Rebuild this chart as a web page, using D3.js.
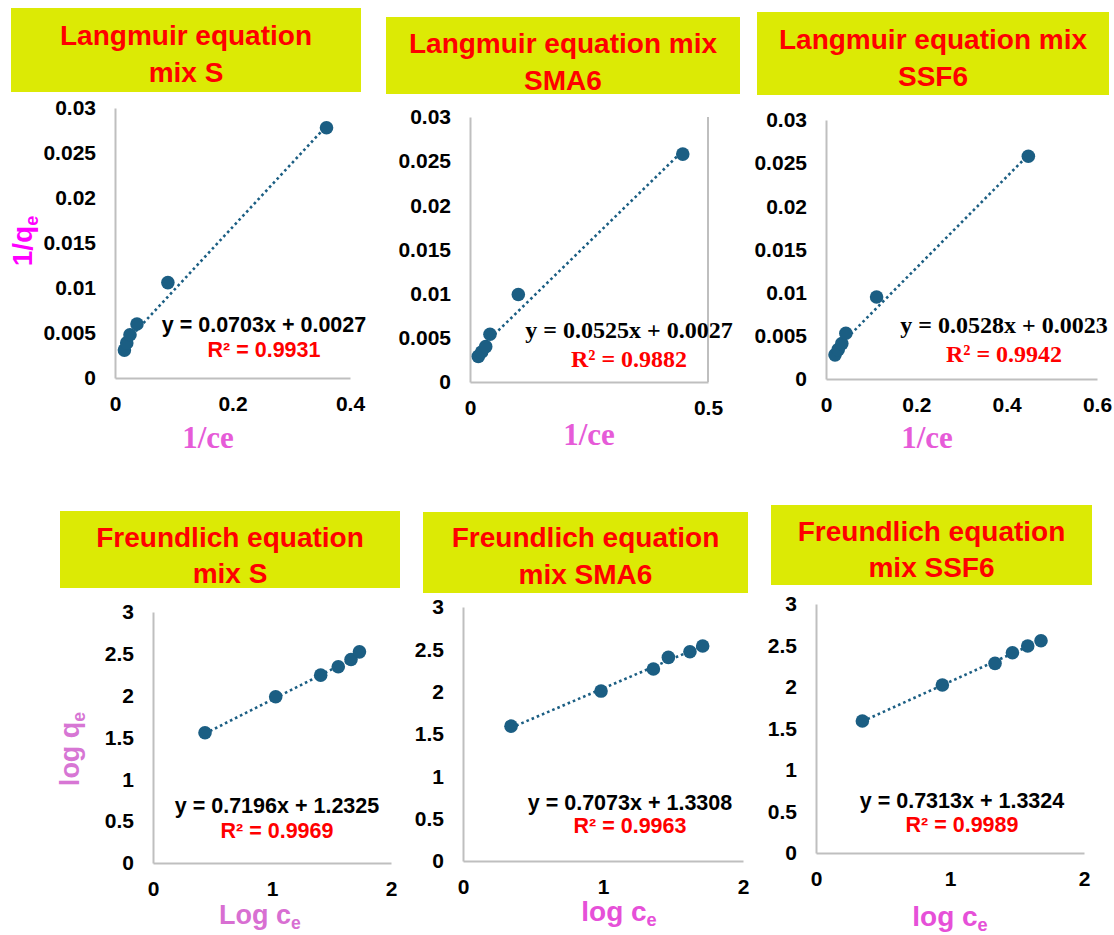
<!DOCTYPE html>
<html>
<head>
<meta charset="utf-8">
<script src="https://cdn.jsdelivr.net/npm/d3@7"></script>
<style>
  body { margin: 0; background: #fff; }
  text { font-weight: bold; }
</style>
</head>
<body>
<script>
// panel titles (two lines each)
const titles = [
    ["Langmuir equation", "mix S"],
    ["Langmuir equation mix", "SMA6"],
    ["Langmuir equation mix", "SSF6"],
    ["Freundlich equation", "mix S"],
    ["Freundlich equation", "mix SMA6"],
    ["Freundlich equation", "mix SSF6"],
];

const xDomains = [[0, 0.4], [0, 0.5], [0, 0.6], [0, 2], [0, 2], [0, 2]];
const yDomains = [[0, 0.03], [0, 0.03], [0, 0.03], [0, 3], [0, 3], [0, 3]];
const xTicks = [[0, 0.2, 0.4], [0, 0.5], [0, 0.2, 0.4, 0.6], [0, 1, 2], [0, 1, 2], [0, 1, 2]];
const yTicksLangmuir = [0, 0.005, 0.01, 0.015, 0.02, 0.025, 0.03];
const yTicksFreundlich = [0, 0.5, 1, 1.5, 2, 2.5, 3];

// measured points (1/ce vs 1/qe, log ce vs log qe)
const xValues = [
    [0.016, 0.020, 0.0255, 0.0374, 0.090, 0.360],
    [0.0175, 0.0245, 0.033, 0.042, 0.1015, 0.447],
    [0.020, 0.027, 0.035, 0.044, 0.112, 0.448],
    [0.437, 1.031, 1.409, 1.557, 1.664, 1.735],
    [0.343, 0.986, 1.360, 1.467, 1.621, 1.712],
    [0.346, 0.943, 1.336, 1.466, 1.580, 1.679],
];
const yValues = [
    [0.0031, 0.0039, 0.0048, 0.0060, 0.0106, 0.0278],
    [0.0029, 0.0034, 0.0040, 0.0054, 0.0099, 0.0258],
    [0.0028, 0.0034, 0.0041, 0.0053, 0.0095, 0.0258],
    [1.557, 1.987, 2.245, 2.345, 2.433, 2.524],
    [1.593, 2.007, 2.267, 2.405, 2.472, 2.540],
    [1.590, 2.024, 2.285, 2.413, 2.494, 2.558],
];

// linear fits
const slopes = [0.0703, 0.0525, 0.0528, 0.7196, 0.7073, 0.7313];
const intercepts = [0.0027, 0.0027, 0.0023, 1.2325, 1.3308, 1.3324];
const rSquared = ["0.9931", "0.9882", "0.9942", "0.9969", "0.9963", "0.9989"];

// layout of each panel, in page pixels
const layout = [
    { box: [11, 8, 361, 92], tb: [45, 82], l: 115, r: 350, t: 108, b: 378, eq: [264, 332, 357], serifEq: false,
      xt: { x: 208, y: 448, kind: "ce" }, yt: { x: 32, y: 241, kind: "qe" } },
    { box: [386, 17, 740, 94], tb: [53, 90], l: 470, r: 708, t: 117, b: 382, eq: [629, 338, 367], serifEq: true,
      xt: { x: 589, y: 445, kind: "ce" }, border: true },
    { box: [757, 12, 1109, 95], tb: [49, 86], l: 826, r: 1097, t: 120, b: 379, eq: [1004, 333, 362], serifEq: true,
      xt: { x: 927, y: 448, kind: "ce" } },
    { box: [60, 511, 400, 588], tb: [547, 583], l: 153, r: 391, t: 612, b: 863, eq: [277, 813, 838], serifEq: false,
      xt: { x: 260, y: 924, kind: "Log" }, yt: { x: 79, y: 749, kind: "logq" } },
    { box: [423, 512, 748, 593], tb: [547, 584], l: 463, r: 743, t: 607, b: 861, eq: [630, 810, 833], serifEq: false,
      xt: { x: 619, y: 921, kind: "log" } },
    { box: [771, 505, 1092, 585], tb: [541, 577], l: 816, r: 1084, t: 604, b: 853, eq: [962, 808, 832], serifEq: false,
      xt: { x: 950, y: 926, kind: "log" } },
];

const sans = '"Liberation Sans", Arial, sans-serif';
const serif = '"Liberation Serif", "Times New Roman", serif';
const markColor = "#1b5e83";

const svg = d3.select("body").append("svg")
    .attr("width", 1114)
    .attr("height", 935)
    .attr("font-family", sans);

layout.forEach((p, i) => {
    const g = svg.append("g");

    // yellow title box
    g.append("rect")
        .attr("x", p.box[0]).attr("y", p.box[1])
        .attr("width", p.box[2] - p.box[0]).attr("height", p.box[3] - p.box[1])
        .attr("fill", "#dcea05");
    titles[i].forEach((t, j) => {
        g.append("text")
            .attr("x", (p.box[0] + p.box[2]) / 2)
            .attr("y", p.tb[j])
            .attr("text-anchor", "middle")
            .attr("font-family", sans)
            .attr("font-size", 28)
            .attr("fill", "#ff0000")
            .text(t);
    });

    const x = d3.scaleLinear().domain(xDomains[i]).range([p.l, p.r]);
    const y = d3.scaleLinear().domain(yDomains[i]).range([p.b, p.t]);

    const xAxis = g.append("g")
        .attr("transform", `translate(0,${p.b})`)
        .call(d3.axisBottom(x).tickValues(xTicks[i]).tickSize(0).tickSizeOuter(0)
            .tickPadding(18).tickFormat(d => String(d)));
    const yAxis = g.append("g")
        .attr("transform", `translate(${p.l},0)`)
        .call(d3.axisLeft(y).tickValues(i < 3 ? yTicksLangmuir : yTicksFreundlich)
            .tickSize(0).tickSizeOuter(0).tickPadding(19).tickFormat(d => String(d)));
    [xAxis, yAxis].forEach(a => {
        a.attr("font-family", sans).attr("font-size", 21);
        a.select(".domain").attr("stroke", "#bfbfbf").attr("stroke-width", 2);
        a.selectAll("text").attr("fill", "#000");
    });

    if (p.border) {
        g.append("line")
            .attr("x1", x.range()[1]).attr("x2", x.range()[1])
            .attr("y1", p.t).attr("y2", p.b)
            .attr("stroke", "#bfbfbf").attr("stroke-width", 2);
    }

    // dotted trendline over the data range
    const ext = d3.extent(xValues[i]);
    const line = d3.line().x(d => x(d)).y(d => y(slopes[i] * d + intercepts[i]));
    g.append("path")
        .attr("d", line(ext))
        .attr("fill", "none")
        .attr("stroke", markColor)
        .attr("stroke-width", 2.6)
        .attr("stroke-dasharray", "2.6,3");

    g.selectAll(".pt")
        .data(xValues[i].map((v, k) => [v, yValues[i][k]]))
        .enter()
        .append("circle")
        .classed("pt", true)
        .attr("cx", d => x(d[0]))
        .attr("cy", d => y(d[1]))
        .attr("r", 6.8)
        .attr("fill", markColor);

    // equation and R²
    const eqFont = p.serifEq ? serif : sans;
    const eqSize = p.serifEq ? 24 : 21.5;
    g.append("text")
        .attr("x", p.eq[0]).attr("y", p.eq[1])
        .attr("text-anchor", "middle")
        .attr("font-family", eqFont).attr("font-size", eqSize)
        .attr("fill", "#000")
        .text(`y = ${slopes[i].toFixed(4)}x + ${intercepts[i].toFixed(4)}`);
    g.append("text")
        .attr("x", p.eq[0]).attr("y", p.eq[2])
        .attr("text-anchor", "middle")
        .attr("font-family", eqFont).attr("font-size", eqSize)
        .attr("fill", "#ff0000")
        .text(`R² = ${rSquared[i]}`);

    // x axis title
    const xt = g.append("text")
        .attr("x", p.xt.x).attr("y", p.xt.y)
        .attr("text-anchor", "middle");
    if (p.xt.kind === "ce") {
        xt.attr("font-family", serif).attr("font-size", 31).attr("fill", "#e65bd8").text("1/ce");
    } else {
        const big = p.xt.kind === "Log";
        xt.attr("font-family", sans).attr("font-size", big ? 27 : 28)
            .attr("fill", big ? "#d86fd2" : "#e650d8");
        xt.append("tspan").text(big ? "Log c" : "log c");
        xt.append("tspan").attr("font-size", "0.65em").attr("dy", "0.3em").text("e");
    }

    // y axis title
    if (p.yt) {
        const q = p.yt.kind === "qe";
        const yt = g.append("text")
            .attr("transform", `translate(${p.yt.x},${p.yt.y}) rotate(-90)`)
            .attr("text-anchor", "middle")
            .attr("font-family", sans)
            .attr("font-size", q ? 28 : 27)
            .attr("fill", q ? "#ff00ff" : "#d776d4");
        yt.append("tspan").text(q ? "1/q" : "log q");
        yt.append("tspan").attr("font-size", "0.65em").attr("dy", "0.35em").text("e");
    }
});
</script>
</body>
</html>
